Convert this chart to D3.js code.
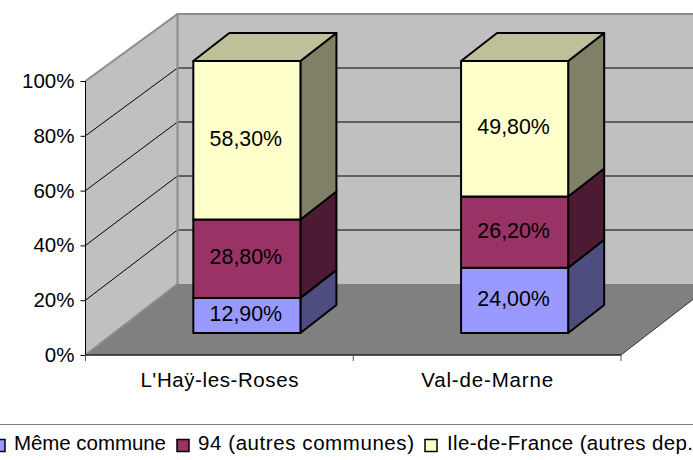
<!DOCTYPE html>
<html>
<head>
<meta charset="utf-8">
<script src="https://cdn.jsdelivr.net/npm/d3@7"></script>
<style>
	html, body {margin: 0; padding: 0; background: #fff; overflow: hidden;}
	svg {display: block;}
	text {font-family: "Liberation Sans", Arial, sans-serif; fill: #000;}
</style>
</head>
<body>
<svg width="693" height="460"></svg>
<script>
// chart values................................................................

var categories = ["L'Haÿ-les-Roses", "Val-de-Marne"],
	seriesNames = ["Même commune", "94 (autres communes)", "Ile-de-France (autres dep."],
	memeCommune = [12.9, 24.0],
	autresCommunes = [28.8, 26.2],
	ileDeFrance = [58.3, 49.8],
	percentTicks = [0, 20, 40, 60, 80, 100];

var frontColors = ["#9999ff", "#993366", "#ffffcc"],
	topColors = ["#b3b3bf", "#73264d", "#bfbf99"],
	sideColors = ["#4d4d80", "#4d1a33", "#808066"];

// the source chart spaces its text wider than the font does
var categoryWidths = [158, 132],
	legendWidths = [152, 216, 246];

// scales......................................................................

var svg = d3.select("svg"),
	depthX = 92,
	barDepth = {x: 36, y: -28},
	barShift = 27.5,

	x = d3.scaleBand()
		.domain(categories)
		.range([85.5, 621])
		.paddingInner(0.6)
		.paddingOuter(0.3),
	y = d3.scaleLinear().domain([0, 100]).range([355, 81]),
	backY = d3.scaleLinear().domain([0, 100]).range([284, 14]),
	barY = d3.scaleLinear().domain([0, 100]).range([333, 61]),

	legendX = d3.scaleOrdinal().domain(seriesNames).range([-7, 177, 425]),
	line = d3.line();

var rows = categories.map(function(c, i) {
	return {category: c, 0: memeCommune[i], 1: autresCommunes[i], 2: ileDeFrance[i]};
});
var stacked = d3.stack().keys([0, 1, 2])(rows);

function closed(points) {
	return line(points) + "Z";
}

// walls and floor.............................................................

var x0 = x.range()[0], x1 = x.range()[1],
	y0 = y(0), y100 = y(100),
	bx0 = x0 + depthX, bx1 = x1 + depthX,
	by0 = backY(0), by100 = backY(100);

svg.append("path")
	.attr("fill", "#c0c0c0")
	.attr("d", closed([[bx0, by100], [bx1, by100], [bx1, by0], [bx0, by0]]));
svg.append("path")
	.attr("fill", "#c0c0c0")
	.attr("d", closed([[x0, y100], [bx0, by100], [bx0, by0], [x0, y0]]));
svg.append("path")
	.attr("fill", "#808080")
	.attr("d", closed([[x0, y0], [bx0, by0], [bx1, by0], [x1, y0]]));

// gridlines run along the side wall, then along the back wall
svg.append("g").selectAll("path")
	.data(percentTicks.slice(1, 5))
	.enter().append("path")
		.attr("fill", "none")
		.attr("stroke", "#000")
		.attr("stroke-width", 1)
		.attr("d", function(d) {
			return line([[x0, y(d)], [bx0, backY(d)], [bx1, backY(d)]]);
		});

// wall edges
svg.append("path")
	.attr("fill", "none")
	.attr("stroke", "#8c8c8c")
	.attr("stroke-width", 2)
	.attr("d", line([[x0, y100], [bx0, by100], [bx1, by100]]));
svg.append("path")
	.attr("fill", "none")
	.attr("stroke", "#8c8c8c")
	.attr("stroke-width", 2)
	.attr("d", line([[x0, y0], [bx0, by0], [bx0, by100]]));
svg.append("path")
	.attr("fill", "none")
	.attr("stroke", "#333")
	.attr("stroke-width", 1)
	.attr("d", line([[x1, y0], [bx1, by0]]));

// axes........................................................................

var yAxis = svg.append("g")
	.attr("transform", "translate(" + x0 + ",0)")
	.call(d3.axisLeft(y)
		.tickValues(percentTicks)
		.tickFormat(function(d) { return d + "%"; })
		.tickSize(5)
		.tickPadding(6));
yAxis.select(".domain").attr("stroke", "#000").attr("d", line([[0, y100], [0, y0 + 6]]));
yAxis.selectAll("line").attr("stroke", "#000");
yAxis.selectAll("text").attr("font-size", 20.5).attr("font-family", null);

svg.append("path")
	.attr("fill", "none")
	.attr("stroke", "#222")
	.attr("stroke-width", 1.5)
	.attr("d", line([[x0, y0], [x1, y0]]));

svg.append("g").selectAll("line")
	.data([0, 1, 2])
	.enter().append("line")
		.attr("x1", function(d) { return x0 + d * x.step(); })
		.attr("x2", function(d) { return x0 + d * x.step(); })
		.attr("y1", y0)
		.attr("y2", y0 + 6)
		.attr("stroke", "#555");

svg.append("g").selectAll("text")
	.data(categories)
	.enter().append("text")
		.attr("x", function(d) { return x(d) + x.bandwidth() / 2; })
		.attr("y", 387)
		.attr("text-anchor", "middle")
		.attr("font-size", 20.5)
		.attr("textLength", function(d, i) { return categoryWidths[i]; })
		.text(function(d) { return d; });

// bars........................................................................

var layer = svg.append("g").selectAll("g")
	.data(stacked)
	.enter().append("g");

var bar = layer.selectAll("g")
	.data(function(s) {
		return s.map(function(d) { return {key: s.key, lo: d[0], hi: d[1], category: d.data.category}; });
	})
	.enter().append("g")
		.attr("stroke", "#000")
		.attr("stroke-width", 2)
		.attr("stroke-linejoin", "round");

function barLeft(d) { return x(d.category) + barShift; }

bar.append("path")
	.attr("fill", function(d) { return sideColors[d.key]; })
	.attr("d", function(d) {
		var r = barLeft(d) + x.bandwidth();
		return closed([[r, barY(d.lo)], [r + barDepth.x, barY(d.lo) + barDepth.y],
			[r + barDepth.x, barY(d.hi) + barDepth.y], [r, barY(d.hi)]]);
	});
bar.filter(function(d) { return d.key == 2; }).append("path")
	.attr("fill", function(d) { return topColors[d.key]; })
	.attr("d", function(d) {
		var l = barLeft(d), r = l + x.bandwidth(), t = barY(d.hi);
		return closed([[l, t], [l + barDepth.x, t + barDepth.y], [r + barDepth.x, t + barDepth.y], [r, t]]);
	});
bar.append("rect")
	.attr("x", barLeft)
	.attr("y", function(d) { return barY(d.hi); })
	.attr("width", x.bandwidth())
	.attr("height", function(d) { return barY(d.lo) - barY(d.hi); })
	.attr("fill", function(d) { return frontColors[d.key]; });

bar.append("text")
	.attr("x", function(d) { return barLeft(d) + x.bandwidth() / 2 - 1; })
	.attr("y", function(d) { return barY((d.lo + d.hi) / 2) + 5.5; })
	.attr("text-anchor", "middle")
	.attr("font-size", 21.4)
	.attr("stroke", "none")
	.text(function(d) { return (d.hi - d.lo).toFixed(2).replace(".", ",") + "%"; });

// legend......................................................................

svg.append("line")
	.attr("x1", 0)
	.attr("x2", 693)
	.attr("y1", 424.5)
	.attr("y2", 424.5)
	.attr("stroke", "#808080");

var legend = svg.append("g").selectAll("g")
	.data(seriesNames)
	.enter().append("g")
		.attr("transform", function(d) { return "translate(" + legendX(d) + ",0)"; });

legend.append("rect")
	.attr("y", 439.5)
	.attr("width", 12)
	.attr("height", 12)
	.attr("stroke", "#000")
	.attr("stroke-width", 1.5)
	.attr("fill", function(d, i) { return frontColors[i]; });

legend.append("text")
	.attr("x", function(d, i) { return i == 2 ? 22 : 21; })
	.attr("y", 450)
	.attr("font-size", 20.5)
	.attr("textLength", function(d, i) { return legendWidths[i]; })
	.text(function(d) { return d; });
</script>
</body>
</html>
